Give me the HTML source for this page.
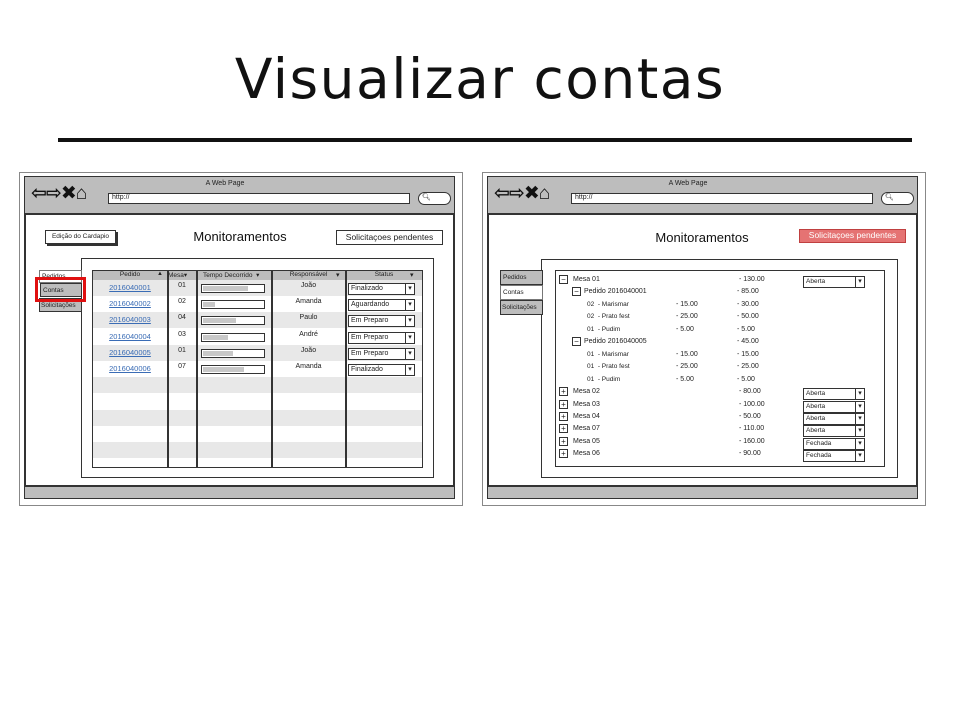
<!DOCTYPE html>
<html><head><meta charset="utf-8">
<style>
*{margin:0;padding:0;box-sizing:border-box}
body{width:960px;height:720px;background:#fff;position:relative;overflow:hidden;font-family:"Liberation Sans","DejaVu Sans",sans-serif;color:#222}
.a{position:absolute;white-space:nowrap}
</style></head><body>
<div class="a" style="left:0;width:960px;top:47px;text-align:center;font-family:'DejaVu Sans',sans-serif;font-size:55px;font-weight:400;letter-spacing:1.5px;color:#111">Visualizar contas</div>
<div class="a" style="left:58px;top:138px;width:854px;height:4px;background:#111"></div>
<div id="root"></div>
<script>
var R=document.getElementById('root');
function d(x,y,w,h,st,txt){var e=document.createElement('div');e.className='a';e.style.cssText='left:'+x+'px;top:'+y+'px;'+(w!=null?'width:'+w+'px;':'')+(h!=null?'height:'+h+'px;':'')+(st||'');if(txt!=null)e.innerHTML=txt;R.appendChild(e);return e;}
function browser(ox){
 d(ox+19,172,444,334,'border:1px solid #888;background:#fff');
 d(ox+24,176,431,323,'border:2px solid #333;background:#fff');
 d(ox+25,177,429,38,'background:#bdbdbd;border-bottom:2px solid #333');
 d(ox+25,485,429,13,'background:#bdbdbd;border-top:2px solid #333');
 d(ox+200,180,50,8,'font-size:7px;text-align:center','A Web Page');
 d(ox+31,185,80,18,'font-size:19px;line-height:18px;color:#111;font-weight:bold;letter-spacing:-1px','&#x21E6;&#x21E8;&#x2716;&#x2302;');
 d(ox+108,193,302,11,'border:1.5px solid #333;background:#fff;font-size:7px;padding-left:3px;line-height:8px','http://');
 d(ox+418,192,33,13,'border:1.5px solid #333;border-radius:7px;background:#fff;font-size:7px;padding-left:3px;line-height:10px','&#x1F50D;&#xFE0E;');
}
browser(0);browser(463);
// LEFT
d(45,230,71,14,'border:1px solid #333;box-shadow:2px 2px 0 #333;background:#fff;font-size:6.5px;text-align:center;line-height:12px','Edição do Cardapio');
d(160,229,160,14,'font-size:13px;text-align:center;color:#111','Monitoramentos');
d(336,230,107,15,'border:1.5px solid #333;background:#fff;font-size:8.5px;text-align:center;line-height:12px','Solicitaçoes pendentes');
d(81,258,353,220,'border:1.5px solid #333;background:#fff');
d(39,270,43,13,'border:1px solid #777;background:#fff;font-size:6.5px;padding:2px 2px','Pedidos');
d(40,283,42,14,'border:1.5px solid #333;background:#bdbdbd;font-size:6.5px;padding:3px 2px','Contas');
d(39,298,43,14,'border:1.5px solid #333;background:#bdbdbd;font-size:6.5px;padding:3px 1px','Solicitações');
d(35,277,51,25,'border:3px solid #e01010');
d(92,270,331,198,'border:1.5px solid #333;background:#fff');
d(93,271,329,9,'background:#bdbdbd');
for(var i=0;i<12;i++){ if(i%2==0) d(93,280+i*16.2,329,16,'background:#e8e8e8'); }
[167,196,271,345].forEach(function(c){d(c,271,1.5,196,'background:#333')});
d(93,271,74,8,'font-size:6.5px;text-align:center','Pedido');d(157,271,8,8,'font-size:6px','&#x25B2;');
d(168,271,28,8,'font-size:6.5px','Mesa&#x25BE;');
d(197,271,74,8,'font-size:6.5px;padding-left:6px','Tempo Decorrido &nbsp;&#x25BE;');
d(272,271,73,8,'font-size:6.5px;text-align:center','Responsável');d(336,271,8,8,'font-size:7px','&#x25BE;');
d(346,271,76,8,'font-size:6.5px;text-align:center','Status');d(410,271,8,8,'font-size:7px','&#x25BE;');
var L=[['2016040001','01',75,'João','Finalizado'],['2016040002','02',20,'Amanda','Aguardando'],['2016040003','04',55,'Paulo','Em Preparo'],['2016040004','03',42,'André','Em Preparo'],['2016040005','01',50,'João','Em Preparo'],['2016040006','07',68,'Amanda','Finalizado']];
L.forEach(function(r,i){var y=282+i*16.2;
 d(93,y+1,74,9,'font-size:7.5px;text-align:center;color:#3a6cb5;text-decoration:underline',r[0]);
 d(168,y,28,9,'font-size:7px;text-align:center',r[1]);
 d(201,y+2,64,9,'border:1.5px solid #333;background:#fff');
 d(203,y+4,60*r[2]/100,5,'background:#c8c8c8');
 d(272,y,73,9,'font-size:7px;text-align:center',r[3]);
 d(348,y+1,67,12,'border:1px solid #333;background:#fff;font-size:7px;padding-left:2px;line-height:10px',r[4]);
 d(405,y+1,10,12,'border:1px solid #333;background:#fff;font-size:7px;text-align:center;line-height:10px','&#x25BE;');
});
// RIGHT
d(622,230,160,14,'font-size:13px;text-align:center;color:#111','Monitoramentos');
d(799,229,107,14,'border:1.5px solid #c04040;background:#e57373;color:#fff;font-size:8.5px;text-align:center;line-height:11px','Solicitaçoes pendentes');
d(541,259,357,219,'border:1.5px solid #333;background:#fff');
d(500,270,43,15,'border:1.5px solid #333;background:#bdbdbd;font-size:6.5px;padding:3px 2px','Pedidos');
d(500,285,43,15,'border:1px solid #777;background:#fff;font-size:6.5px;padding:3px 2px','Contas');
d(500,300,43,15,'border:1.5px solid #333;background:#bdbdbd;font-size:6.5px;padding:3px 1px','Solicitações');
d(555,270,330,197,'border:1.5px solid #333;background:#fff');
function box(x,y,s){d(x,y,9,9,'border:1px solid #333;background:#fff;font-size:8px;line-height:7px;text-align:center',s?'+':'&minus;');}
function dd(y,t){d(803,y-4,53,12,'border:1px solid #333;background:#fff;font-size:6.5px;padding-left:2px;line-height:10px',t);d(855,y-4,10,12,'border:1px solid #333;background:#fff;font-size:7px;text-align:center;line-height:10px','&#x25BE;');}
var rows=[['m','Mesa 01','','- 130.00','Aberta',0],['p','Pedido 2016040001','','- 85.00'],['i','02  &nbsp;- Marismar','- 15.00','- 30.00'],['i','02  &nbsp;- Prato fest','- 25.00','- 50.00'],['i','01  &nbsp;- Pudim','- 5.00','- 5.00'],['p','Pedido 2016040005','','- 45.00'],['i','01  &nbsp;- Marismar','- 15.00','- 15.00'],['i','01  &nbsp;- Prato fest','- 25.00','- 25.00'],['i','01  &nbsp;- Pudim','- 5.00','- 5.00'],['m','Mesa 02','','- 80.00','Aberta',1],['m','Mesa 03','','- 100.00','Aberta',1],['m','Mesa 04','','- 50.00','Aberta',1],['m','Mesa 07','','- 110.00','Aberta',1],['m','Mesa 05','','- 160.00','Fechada',1],['m','Mesa 06','','- 90.00','Fechada',1]];
rows.forEach(function(r,i){var y=275+i*12.45;
 if(r[0]=='m'){box(559,y,r[5]);d(573,y+1,80,9,'font-size:7px',r[1]);d(739,y+1,60,9,'font-size:7px',r[3]);dd(y+5,r[4]);}
 else if(r[0]=='p'){box(572,y,0);d(584,y+1,80,9,'font-size:7px',r[1]);d(737,y+1,60,9,'font-size:7px',r[3]);}
 else {d(587,y+1,80,9,'font-size:6.5px',r[1]);d(676,y+1,40,9,'font-size:7px',r[2]);d(737,y+1,60,9,'font-size:7px',r[3]);}
});
</script>
</body></html>
